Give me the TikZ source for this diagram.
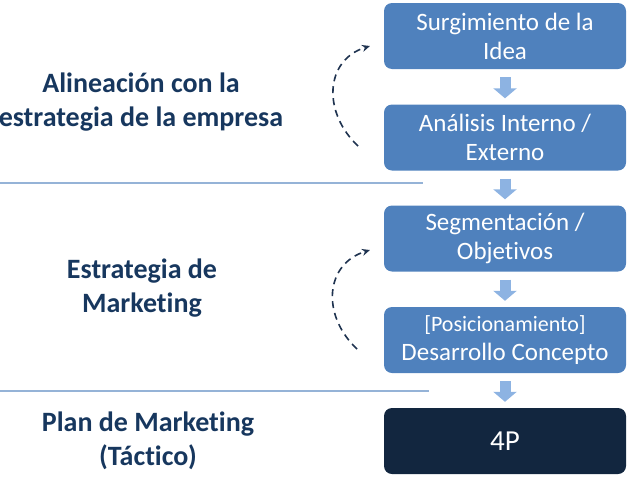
\documentclass[tikz,border=0pt]{standalone}
\usepackage{fontspec}
\setmainfont{Carlito}[Ligatures=NoCommon]
\usetikzlibrary{positioning,arrows.meta}

\definecolor{boxblue}{HTML}{4F81BD}
\definecolor{boxdark}{HTML}{12263F}
\definecolor{labelnavy}{HTML}{17375E}
\definecolor{arrowblue}{HTML}{8DB3E2}
\definecolor{sepblue}{HTML}{95B3D7}
\definecolor{loopnavy}{HTML}{1F3350}

\tikzset{
    stage/.style={rectangle, rounded corners=8pt, fill=boxblue, text=white,
        minimum width=242pt, minimum height=66pt, align=center,
        font=\fontsize{25}{29}\selectfont},
    flow/.style={-{Triangle[width=23pt,length=10pt]}, line width=11pt, arrowblue,
        shorten <=8pt, shorten >=6pt},
    phase/.style={align=center, text=labelnavy, font=\bfseries\fontsize{28}{34}\selectfont},
    loop/.style={dashed, dash pattern=on 7pt off 5pt, line width=1.6pt, loopnavy,
        -{Stealth[length=8pt,width=7pt]}},
    separator/.style={sepblue, line width=1.8pt}
}

\begin{document}
\begin{tikzpicture}[x=1pt,y=-1pt]
        \useasboundingbox (0,0) rectangle (637,493);
        % etapas
        \node[stage] (idea) at (505,36) {Surgimiento de la\\Idea};
        \node[stage] (analisis) at (505,137.5) {An\'alisis Interno /\\Externo};
        \node[stage] (segm) at (505,238.5) {Segmentaci\'on /\\Objetivos};
        \node[stage] (posic) at (505,340) {{\fontsize{22}{26}\selectfont [Posicionamiento]}\\Desarrollo Concepto};
        \node[stage, fill=boxdark, font=\fontsize{29}{34}\selectfont] (cuatrop) at (505,441) {4P};
        \draw[flow] (idea) -- (analisis);
        \draw[flow] (analisis) -- (segm);
        \draw[flow] (segm) -- (posic);
        \draw[flow] (posic) -- (cuatrop);
        % fases
        \node[phase] (alineacion) at (141,102) {Alineaci\'on con la\\estrategia de la empresa};
        \node[phase] (estrategia) at (142,288) {Estrategia de\\Marketing};
        \node[phase] (plan) at (148,441) {Plan de Marketing\\(T\'actico)};
        \draw[separator] (0,183) -- (423,183);
        \draw[separator] (0,391) -- (429,391);
        % retroalimentacion
        \coordinate (loopAstart) at (358,146);
        \coordinate (loopAend) at (370,46);
        \coordinate (loopBstart) at (357,349);
        \coordinate (loopBend) at (370,250);
        \draw[loop] (loopAstart) .. controls (322,112) and (325,60) .. (loopAend);
        \draw[loop] (loopBstart) .. controls (321,315) and (325,264) .. (loopBend);
    \end{tikzpicture}
\end{document}
